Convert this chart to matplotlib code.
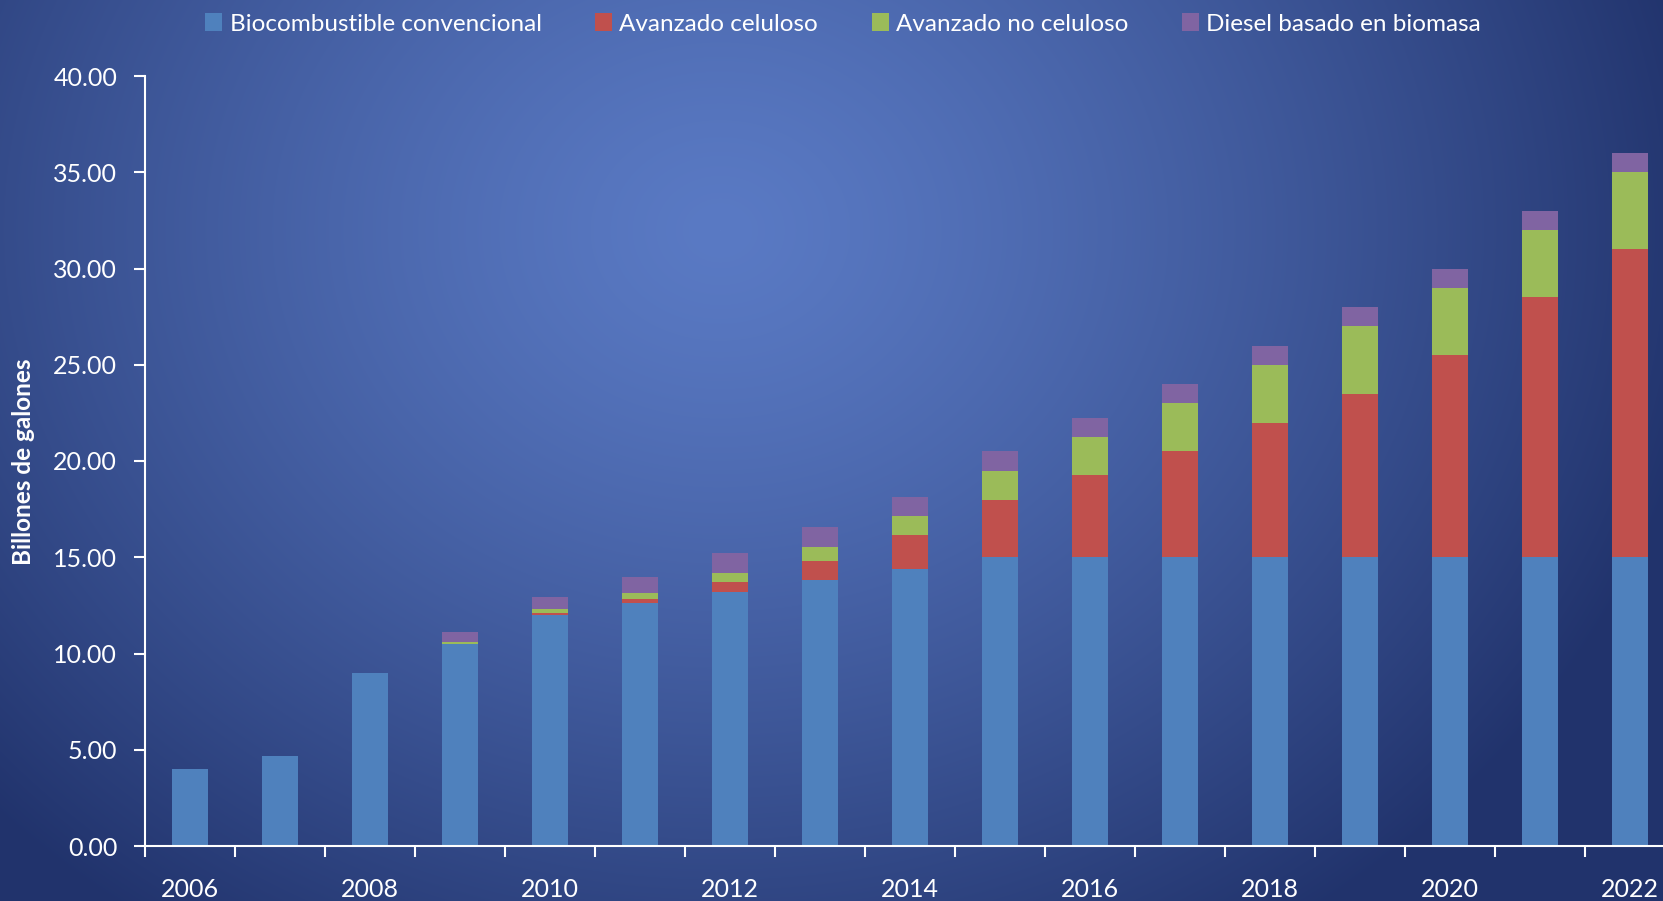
import numpy as np
import matplotlib.pyplot as plt

years = list(range(2006, 2023))
convencional = [4.0, 4.7, 9.0, 10.5, 12.0, 12.6, 13.2, 13.8, 14.4, 15.0, 15.0, 15.0, 15.0, 15.0, 15.0, 15.0, 15.0]
celuloso = [0.0, 0.0, 0.0, 0.0, 0.1, 0.25, 0.5, 1.0, 1.75, 3.0, 4.25, 5.5, 7.0, 8.5, 10.5, 13.5, 16.0]
no_celuloso = [0.0, 0.0, 0.0, 0.1, 0.2, 0.3, 0.5, 0.75, 1.0, 1.5, 2.0, 2.5, 3.0, 3.5, 3.5, 3.5, 4.0]
diesel = [0.0, 0.0, 0.0, 0.5, 0.65, 0.8, 1.0, 1.0, 1.0, 1.0, 1.0, 1.0, 1.0, 1.0, 1.0, 1.0, 1.0]

series = [
    ("Biocombustible convencional", convencional, "#4f81bd"),
    ("Avanzado celuloso", celuloso, "#c0504d"),
    ("Avanzado no celuloso", no_celuloso, "#9bbb59"),
    ("Diesel basado en biomasa", diesel, "#8064a2"),
]

plt.rcParams['font.family'] = ['Lato', 'DejaVu Sans']

W, H = 1663, 901
fig = plt.figure(figsize=(W / 100, H / 100), dpi=100)

# radial blue background
yy, xx = np.mgrid[0:H, 0:W]
d = np.sqrt(((xx - 720) / 1000.0) ** 2 + ((yy - 230) / 850.0) ** 2)
t = np.clip(d, 0, 1) ** 1.3
c_in = np.array([90, 122, 196]) / 255.0
c_out = np.array([33, 51, 108]) / 255.0
img = c_in[None, None, :] * (1 - t[..., None]) + c_out[None, None, :] * t[..., None]
bg = fig.add_axes([0, 0, 1, 1], zorder=-1)
bg.imshow(img, aspect='auto', extent=[0, 1, 0, 1], origin='upper')
bg.axis('off')

ax = fig.add_axes([145 / W, 55 / H, 1530 / W, 770 / H])
ax.patch.set_alpha(0)

x = np.arange(len(years))
bottom = np.zeros(len(years))
for name, vals, col in series:
    ax.bar(x, vals, width=0.4, bottom=bottom, color=col, label=name)
    bottom += np.array(vals)

ax.set_xlim(-0.5, len(years) - 0.5)
ax.set_ylim(0, 40)
ax.set_yticks(np.arange(0, 41, 5))
ax.set_yticklabels([f"{v:.2f}" for v in np.arange(0, 41, 5)])

ax.set_xticks(np.arange(-0.5, len(years), 1))
ax.set_xticklabels([])
ax.set_xticks(x[::2], minor=True)
ax.set_xticklabels([str(y) for y in years[::2]], minor=True)
ax.tick_params(axis='x', which='minor', length=0, pad=23, labelsize=18, colors='white')
ax.tick_params(axis='x', which='major', length=8, width=1.5, color='white')
ax.tick_params(axis='y', length=8, width=1.5, color='white', labelcolor='white', labelsize=18, pad=12)

for s in ['top', 'right']:
    ax.spines[s].set_visible(False)
for s in ['left', 'bottom']:
    ax.spines[s].set_color('white')
    ax.spines[s].set_linewidth(1.5)

fig.text(24 / W, 1 - 462 / H, "Billones de galones", rotation=90, color='white',
         fontsize=17.5, fontweight='bold', ha='center', va='center')

leg = fig.legend(loc='center', bbox_to_anchor=(843 / W, 1 - 24 / H), ncol=4, frameon=False,
                 fontsize=17.5, handlelength=0.7, handleheight=0.7, handletextpad=0.3,
                 columnspacing=2.2, labelcolor='white')

fig.savefig("out.png", dpi=100)
